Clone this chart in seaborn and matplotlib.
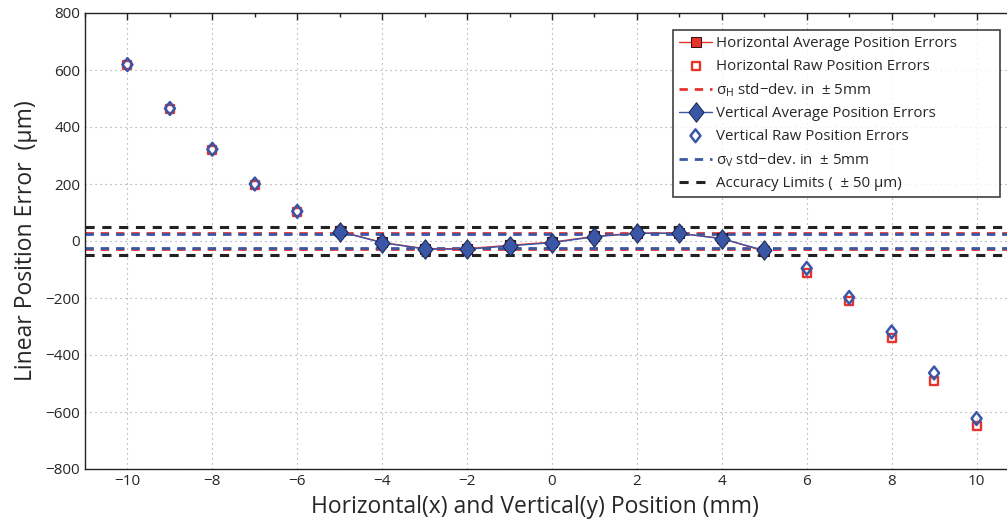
import numpy as np
import pandas as pd
import matplotlib
matplotlib.use("Agg")
import matplotlib.pyplot as plt
from matplotlib.ticker import MultipleLocator
from matplotlib.path import Path
import seaborn as sns

# positions (mm)
pos_avg = [-5, -4, -3, -2, -1, 0, 1, 2, 3, 4, 5]
h_avg = [34, -5, -27, -27, -15, -4, 16, 28, 27, 9, -36]
v_avg = [33, -6, -28, -29, -17, -6, 15, 27, 27, 8, -33]

pos_raw = [-10, -9, -8, -7, -6, -5, -4, -3, -2, -1, 0, 1, 2, 3, 4, 5, 6, 7, 8, 9, 10]
h_raw = [616, 462, 318, 198, 102, 34, -5, -27, -27, -15, -4, 16, 28, 27, 9, -36,
         -112, -210, -340, -490, -650]
v_raw = [619, 465, 322, 200, 104, 33, -6, -28, -29, -17, -6, 15, 27, 27, 8, -33,
         -96, -198, -319, -463, -623]

sigma_h = 27
sigma_v = 25
acc_limit = 50

red = "#e8322c"
blue = "#3a56a6"

lab_h_avg = "Horizontal Average Position Errors"
lab_h_raw = "Horizontal Raw Position Errors"
lab_h_std = "σ$_{\\mathrm{H}}$ std\u2212dev. in  ± 5mm"
lab_v_avg = "Vertical Average Position Errors"
lab_v_raw = "Vertical Raw Position Errors"
lab_v_std = "σ$_{\\mathrm{V}}$ std\u2212dev. in  ± 5mm"
lab_acc = "Accuracy Limits (  ± 50 µm)"

# MATLAB-like diamond (a little taller than wide)
diamond = Path([(0, 1), (0.78, 0), (0, -1), (-0.78, 0), (0, 1)],
               [Path.MOVETO, Path.LINETO, Path.LINETO, Path.LINETO, Path.CLOSEPOLY])

sns.set_style("white")
plt.rcParams["font.family"] = ["Open Sans", "DejaVu Sans"]
plt.rcParams["mathtext.fontset"] = "custom"
plt.rcParams["mathtext.rm"] = "Open Sans"

fig = plt.figure(figsize=(10.07, 5.19), dpi=100)
ax = fig.add_axes([85 / 1007, 50 / 519, 934 / 1007, 456 / 519])

df_avg = pd.DataFrame({"pos": pos_avg, "h": h_avg, "v": v_avg})
df_raw = pd.DataFrame({"pos": pos_raw, "h": h_raw, "v": v_raw})

dash = (0, (3, 2.5))
# accuracy limits and std-dev bands
ax.axhline(acc_limit, color="#222222", ls=dash, lw=2.2, zorder=2, label=lab_acc)
ax.axhline(-acc_limit, color="#222222", ls=dash, lw=2.2, zorder=2)
ax.axhline(sigma_h, color=red, ls=dash, lw=2, zorder=2, label=lab_h_std)
ax.axhline(-sigma_h, color=red, ls=dash, lw=2, zorder=2)
ax.axhline(sigma_v, color=blue, ls=dash, lw=2, zorder=2, label=lab_v_std)
ax.axhline(-sigma_v, color=blue, ls=dash, lw=2, zorder=2)

# raw points
sns.scatterplot(data=df_raw, x="pos", y="h", ax=ax, marker="s", s=26,
                facecolor="white", edgecolor=red, linewidth=1.7, zorder=3,
                label=lab_h_raw)
sns.scatterplot(data=df_raw, x="pos", y="v", ax=ax, marker=diamond, s=85,
                facecolor="none", edgecolor=blue, linewidth=1.8, zorder=4,
                label=lab_v_raw)

# averages
sns.lineplot(data=df_avg, x="pos", y="h", ax=ax, color=red, lw=1, marker="s",
             markersize=7, markerfacecolor=red, markeredgecolor="#3a1010",
             zorder=5, label=lab_h_avg)
sns.lineplot(data=df_avg, x="pos", y="v", ax=ax, color=blue, lw=1, marker=diamond,
             markersize=14, markerfacecolor=blue, markeredgecolor="#1c2a55",
             zorder=6, label=lab_v_avg)

ax.set_xlim(-11, 11)
ax.set_ylim(-800, 800)
ax.xaxis.set_major_locator(MultipleLocator(2))
ax.xaxis.set_minor_locator(MultipleLocator(1))
ax.yaxis.set_major_locator(MultipleLocator(200))
ax.grid(True, which="major", ls=(0, (1, 3.5)), color="#999999", lw=0.8)
ax.tick_params(which="both", direction="in", top=True, right=True,
               labelsize=11, length=5, width=1, color="#222222")
ax.tick_params(which="minor", length=3)
ax.set_xticklabels([f"{int(t)}".replace("-", "\u2212") for t in ax.get_xticks()])
ax.set_yticklabels([f"{int(t)}".replace("-", "\u2212") for t in ax.get_yticks()])
for s in ax.spines.values():
    s.set_color("#222222")
    s.set_linewidth(1)

ax.set_xlabel("Horizontal(x) and Vertical(y) Position (mm)", fontsize=16.5)
ax.set_ylabel("Linear Position Error  (µm)", fontsize=16.5)
ax.xaxis.set_label_coords(0.482, -0.056)
ax.yaxis.set_label_coords(-0.05, 0.5)

handles, labels = ax.get_legend_handles_labels()
order = [lab_h_avg, lab_h_raw, lab_h_std, lab_v_avg, lab_v_raw, lab_v_std, lab_acc]
hmap = dict(zip(labels, handles))
x0 = (673 - 85) / 934
y1 = (469 - 30) / 456
leg = ax.legend([hmap[l] for l in order], order, loc="upper left",
                bbox_to_anchor=(x0, y1 - 0.4, (1000 - 673) / 934, 0.4),
                mode="expand", fontsize=10.8, frameon=True, fancybox=False,
                edgecolor="#111111", handlelength=2.2, handletextpad=0.3,
                borderpad=0.4, labelspacing=0.5, borderaxespad=0)
leg.get_frame().set_linewidth(1.2)

fig.savefig("out.png", dpi=100)
